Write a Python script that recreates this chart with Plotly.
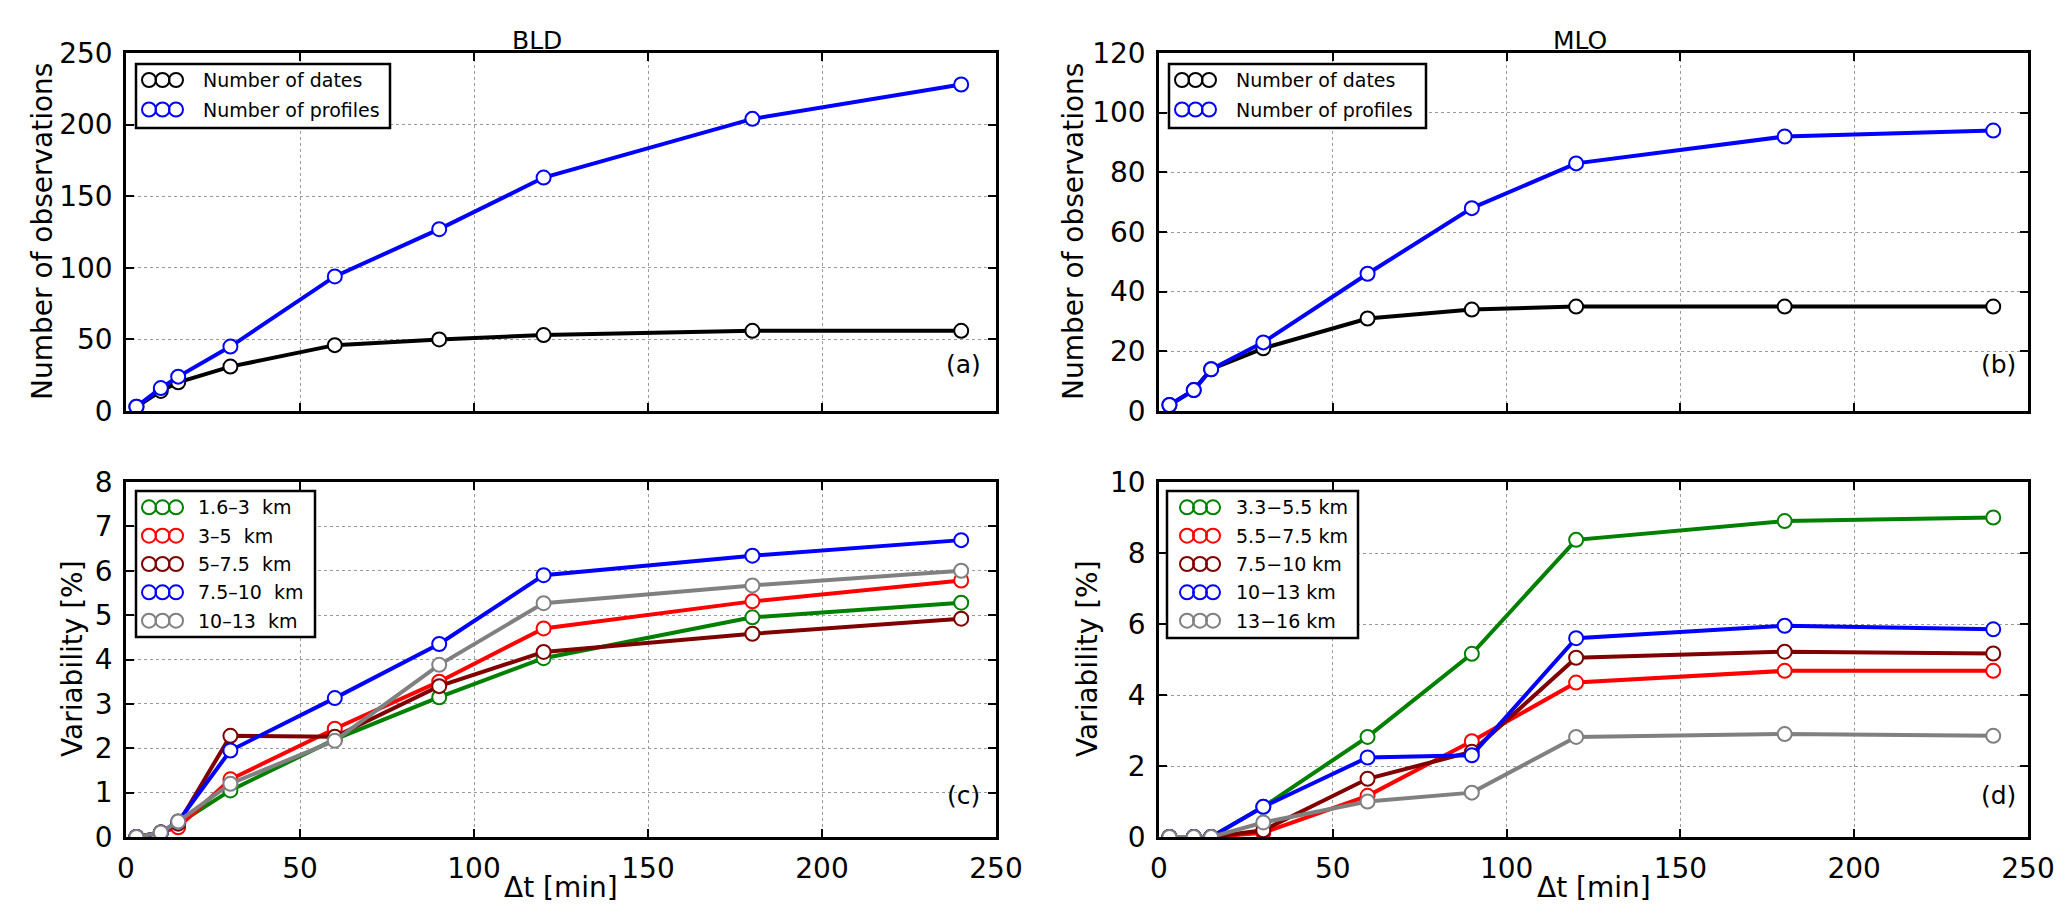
import plotly.graph_objects as go

W, H = 2067, 922

# time lag of the comparison (min)
t_min = [3, 10, 15, 30, 60, 90, 120, 180, 240]

# number of observations (panels a, b)
bld_dates = [3, 14, 20, 31, 46, 50, 53, 56, 56]
bld_profiles = [3, 16, 24, 45, 94, 127, 163, 204, 228]
mlo_dates = [2, 7, 14, 21, 31, 34, 35, 35, 35]
mlo_profiles = [2, 7, 14, 23, 46, 68, 83, 92, 94]
count_names = ['Number of dates', 'Number of profiles']
count_colors = ['black', 'blue']

# variability per altitude layer (panel c, BLD)
bld_layers = ['1.6\u20133\u00a0\u00a0km', '3\u20135\u00a0\u00a0km', '5\u20137.5\u00a0\u00a0km',
              '7.5\u201310\u00a0\u00a0km', '10\u201313\u00a0\u00a0km']
bld_var_1 = [0, 0.1, 0.3, 1.05, 2.2, 3.15, 4.03, 4.95, 5.28]
bld_var_2 = [0, 0.1, 0.22, 1.3, 2.44, 3.5, 4.7, 5.31, 5.78]
bld_var_3 = [0, 0.1, 0.3, 2.28, 2.26, 3.4, 4.17, 4.58, 4.92]
bld_var_4 = [0, 0.1, 0.35, 1.95, 3.13, 4.35, 5.9, 6.34, 6.69]
bld_var_5 = [0, 0.1, 0.35, 1.2, 2.17, 3.88, 5.27, 5.67, 6.0]

# variability per altitude layer (panel d, MLO)
mlo_layers = ['3.3\u22125.5 km', '5.5\u22127.5 km', '7.5\u221210 km', '10\u221213 km', '13\u221216 km']
mlo_var_1 = [0, 0, 0, 0.85, 2.82, 5.16, 8.37, 8.9, 9.0]
mlo_var_2 = [0, 0, 0, 0.12, 1.16, 2.7, 4.35, 4.68, 4.68]
mlo_var_3 = [0, 0, 0, 0.19, 1.64, 2.4, 5.05, 5.22, 5.17]
mlo_var_4 = [0, 0, 0, 0.85, 2.24, 2.3, 5.6, 5.95, 5.85]
mlo_var_5 = [0, 0, 0, 0.41, 1.0, 1.25, 2.82, 2.9, 2.85]
layer_colors = ['#008000', '#ff0000', '#800000', '#0000ff', '#808080']

FONT = 'DejaVu Sans'


def px(x):
    return x / W


def py(y):
    return 1 - y / H


def add_series(fig, y, color, ax):
    fig.add_trace(go.Scatter(
        x=t_min, y=y, mode='lines+markers', showlegend=False,
        line=dict(color=color, width=4),
        marker=dict(size=14, color='white', line=dict(color=color, width=2)),
        xaxis='x' + ax, yaxis='y' + ax
    ))


def add_legend(fig, box, rows, circles, text_x, names, colors, size):
    # matplotlib style legend: framed box with three open circles per entry
    x0, y0, x1, y1 = box
    fig.add_shape(type='rect', xref='paper', yref='paper',
                  x0=px(x0), x1=px(x1), y0=py(y1), y1=py(y0),
                  line=dict(color='black', width=2.5), fillcolor='white')
    for ry, name, color in zip(rows, names, colors):
        for cx in circles:
            fig.add_shape(type='circle', xref='paper', yref='paper',
                          xsizemode='pixel', ysizemode='pixel',
                          xanchor=px(cx), yanchor=py(ry),
                          x0=-7, x1=7, y0=-7, y1=7,
                          line=dict(color=color, width=2), fillcolor='rgba(0,0,0,0)')
        fig.add_annotation(x=px(text_x), y=py(ry), xref='paper', yref='paper',
                           text=name, showarrow=False, xanchor='left', yanchor='middle',
                           font=dict(size=size, color='black'))


def text(fig, x, y, s, size, angle=0):
    fig.add_annotation(x=px(x), y=py(y), xref='paper', yref='paper', text=s,
                       showarrow=False, xanchor='center', yanchor='middle',
                       textangle=angle, font=dict(size=size, color='black'))


fig = go.Figure()

# panel a/b
for y, c in zip([bld_dates, bld_profiles], count_colors):
    add_series(fig, y, c, '')
for y, c in zip([mlo_dates, mlo_profiles], count_colors):
    add_series(fig, y, c, '2')
# panel c/d
for y, c in zip([bld_var_1, bld_var_2, bld_var_3, bld_var_4, bld_var_5], layer_colors):
    add_series(fig, y, c, '3')
for y, c in zip([mlo_var_1, mlo_var_2, mlo_var_3, mlo_var_4, mlo_var_5], layer_colors):
    add_series(fig, y, c, '4')

axis_style = dict(
    showline=True, linecolor='black', linewidth=2.5, mirror='ticks',
    ticks='inside', ticklen=8, tickwidth=1.5, tickcolor='black',
    showgrid=True, gridcolor='#9a9a9a', griddash='dot', gridwidth=1,
    zeroline=False, tickfont=dict(size=28, color='black'), automargin=False,
    ticklabelstandoff=5
)

left = [px(118), px(988)]
right = [px(1151), px(2020)]
top = [py(403), py(45)]
bottom = [py(829), py(474)]

fig.update_layout(
    width=W, height=H,
    margin=dict(l=0, r=0, t=0, b=0),
    plot_bgcolor='white', paper_bgcolor='white',
    font=dict(family=FONT, color='black'),
    showlegend=False,
    xaxis=dict(domain=left, range=[0, 250], dtick=50, showticklabels=False, anchor='y', **axis_style),
    yaxis=dict(domain=top, range=[0, 250], dtick=50, anchor='x', **axis_style),
    xaxis2=dict(domain=right, range=[0, 250], dtick=50, showticklabels=False, anchor='y2', **axis_style),
    yaxis2=dict(domain=top, range=[0, 120], dtick=20, anchor='x2', **axis_style),
    xaxis3=dict(domain=left, range=[0, 250], dtick=50, anchor='y3', **axis_style),
    yaxis3=dict(domain=bottom, range=[0, 8], dtick=1, anchor='x3', **axis_style),
    xaxis4=dict(domain=right, range=[0, 250], dtick=50, anchor='y4', **axis_style),
    yaxis4=dict(domain=bottom, range=[0, 10], dtick=2, anchor='x4', **axis_style),
)

# legends
add_legend(fig, (128, 56, 382, 120), [72, 101.5], [141, 154.5, 168], 193,
           count_names, count_colors, 19)
add_legend(fig, (1161, 56, 1418, 120), [72, 101.5], [1174, 1187.5, 1201], 1226,
           count_names, count_colors, 19)
add_legend(fig, (128, 483, 307, 629), [499.3, 527.7, 556, 584.3, 612.7], [141, 154.5, 168], 188,
           bld_layers, layer_colors, 19)
add_legend(fig, (1159, 483, 1350, 630), [499.3, 527.7, 556, 584.3, 612.7], [1179, 1192, 1205], 1226,
           mlo_layers, layer_colors, 19)

# titles and labels
text(fig, 529, 32, 'BLD', 25)
text(fig, 1572, 32, 'MLO', 25)
text(fig, 34, 224, 'Number of observations', 28, -90)
text(fig, 1065, 224, 'Number of observations', 28, -90)
text(fig, 64, 651, 'Variability [%]', 28, -90)
text(fig, 1079, 651, 'Variability [%]', 28, -90)
text(fig, 553, 879, '\u0394t [min]', 28)
text(fig, 1586, 879, '\u0394t [min]', 28)
text(fig, 955, 356, '(a)', 25)
text(fig, 1990, 356, '(b)', 25)
text(fig, 955, 787, '(c)', 25)
text(fig, 1990, 787, '(d)', 25)

fig.write_html("out.html")
